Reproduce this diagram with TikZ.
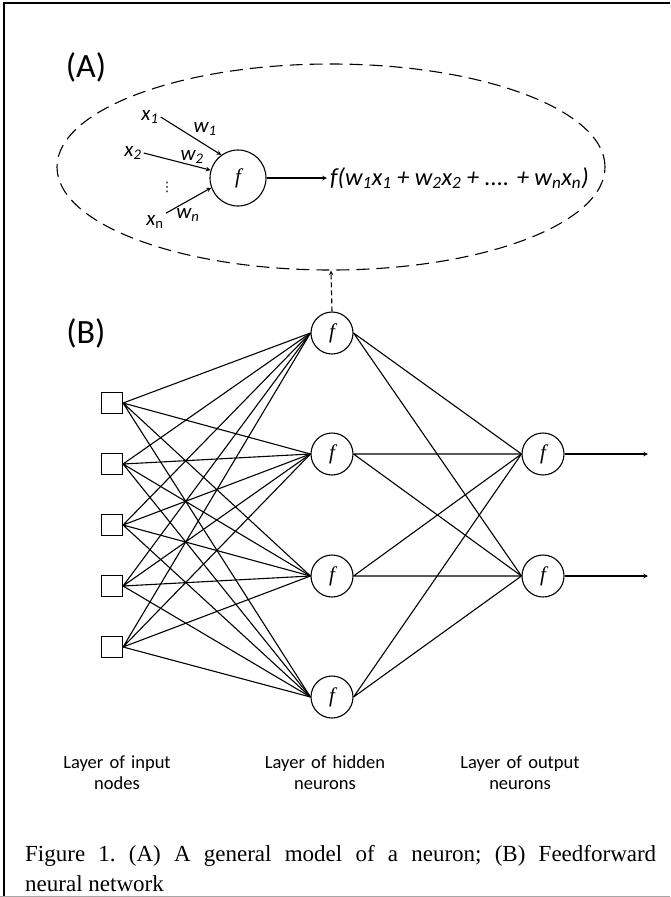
\documentclass[tikz,border=0pt]{standalone}
\usepackage{fontspec}
\setmainfont{Carlito}
\newfontfamily\capfont{Liberation Serif}
\newfontfamily\dotfont{DejaVu Sans}
\usetikzlibrary{shapes.geometric, arrows, positioning}

\begin{document}
\begin{tikzpicture}[
    x=1pt, y=-1pt,
    inbox/.style={rectangle, draw, line width=1.1pt, minimum size=21pt, inner sep=0pt},
    neuron/.style={circle, draw, line width=1.1pt, minimum size=42pt, inner sep=0pt,
                   font=\fontsize{21}{21}\capfont\itshape},
    bigneuron/.style={neuron, minimum size=56pt},
    conn/.style={line width=1.1pt},
    arr/.style={->, >=stealth, line width=1.1pt},
    dasharr/.style={->, >=stealth, line width=1.1pt, dash pattern=on 5pt off 3pt},
    model/.style={ellipse, draw, line width=1.1pt, dash pattern=on 13pt off 7pt,
                  minimum width=548pt, minimum height=206pt},
    panel/.style={font=\fontsize{34}{34}\selectfont},
    sym/.style={font=\fontsize{21}{21}\selectfont\itshape, inner sep=2pt},
    formula/.style={font=\fontsize{24.5}{24.5}\selectfont\itshape, inner sep=3pt},
    layerlab/.style={font=\fontsize{18.5}{21}\selectfont, text width=130pt, align=center}
]
\useasboundingbox (0,0) rectangle (670,897);

%% ===== FRAME =====
\draw[line width=2pt] (4,897) -- (4,3) -- (670,3);
\draw[gray!70, line width=1pt] (0,896) -- (670,896);

%% ===== (A): GENERAL MODEL OF A NEURON =====
\node[panel] (labA) at (86,67) {(A)};
\node[model] (ell) at (331,167) {};
\node[bigneuron] (neu) at (238,178) {f};

\node[sym] (x1) at (150,117) {x\textsubscript{1}};
\node[sym] (x2) at (133,153) {x\textsubscript{2}};
\node[sym] (xn) at (155,222) {x\textsubscript{\upshape n}};
\node[font=\fontsize{13}{13}\dotfont, inner sep=0pt] (vd) at (167,187) {⋮};
\node[sym] (w1) at (205,129) {w\textsubscript{1}};
\node[sym] (w2) at (192,157) {w\textsubscript{2}};
\node[sym] (wn) at (188,215) {w\textsubscript{n}};

\node[formula, anchor=west] (out) at (327,178)
    {f(w\textsubscript{1}x\textsubscript{1} + w\textsubscript{2}x\textsubscript{2} + .... + w\textsubscript{n}x\textsubscript{n})};

\draw[arr] (x1.east)       -- (neu.126);
\draw[arr] (x2.east)       -- (neu.164);
\draw[arr] (xn.north east) -- (neu.200);
\draw[arr] (neu.east)      -- (out.west);

%% ===== (B): FEEDFORWARD NETWORK =====
\node[panel] (labB) at (86,333) {(B)};

%% input nodes
\node[inbox] (in1) at (112,403) {};
\node[inbox] (in2) at (112,464) {};
\node[inbox] (in3) at (112,525) {};
\node[inbox] (in4) at (112,586) {};
\node[inbox] (in5) at (112,647) {};

%% hidden neurons
\node[neuron] (h1) at (332,333) {f};
\node[neuron] (h2) at (332,454) {f};
\node[neuron] (h3) at (332,576) {f};
\node[neuron] (h4) at (332,697) {f};

%% output neurons
\node[neuron] (o1) at (543,454) {f};
\node[neuron] (o2) at (543,576) {f};
\coordinate (y1) at (648,454);
\coordinate (y2) at (648,576);

%% ===== ARROWS: input to hidden =====
\draw[conn] (in1.east) -- (h1.west) (in1.east) -- (h2.west) (in1.east) -- (h3.west) (in1.east) -- (h4.west);
\draw[conn] (in2.east) -- (h1.west) (in2.east) -- (h2.west) (in2.east) -- (h3.west) (in2.east) -- (h4.west);
\draw[conn] (in3.east) -- (h1.west) (in3.east) -- (h2.west) (in3.east) -- (h3.west) (in3.east) -- (h4.west);
\draw[conn] (in4.east) -- (h1.west) (in4.east) -- (h2.west) (in4.east) -- (h3.west) (in4.east) -- (h4.west);
\draw[conn] (in5.east) -- (h1.west) (in5.east) -- (h2.west) (in5.east) -- (h3.west) (in5.east) -- (h4.west);

%% ===== ARROWS: hidden to output =====
\draw[conn] (h1.east) -- (o1.west) (h1.east) -- (o2.west);
\draw[conn] (h2.east) -- (o1.west) (h2.east) -- (o2.west);
\draw[conn] (h3.east) -- (o1.west) (h3.east) -- (o2.west);
\draw[conn] (h4.east) -- (o1.west) (h4.east) -- (o2.west);

%% ===== ARROWS: outputs and link to (A) =====
\draw[arr] (o1.east) -- (y1);
\draw[arr] (o2.east) -- (y2);
\draw[dasharr] (h1.north) -- (ell.south);

%% ===== LAYER LABELS =====
\node[layerlab] (linp) at (117,773) {Layer of input\\nodes};
\node[layerlab] (lhid) at (325,773) {Layer of hidden\\neurons};
\node[layerlab] (lout) at (520,773) {Layer of output\\neurons};

%% ===== CAPTION =====
\node[anchor=west, inner sep=0pt, text width=631pt, align=justify,
      font=\fontsize{23}{30}\capfont\frenchspacing] (cap) at (25,869)
    {Figure 1. (A) A general model of a neuron; (B) Feedforward\linebreak neural network};

\end{tikzpicture}
\end{document}
